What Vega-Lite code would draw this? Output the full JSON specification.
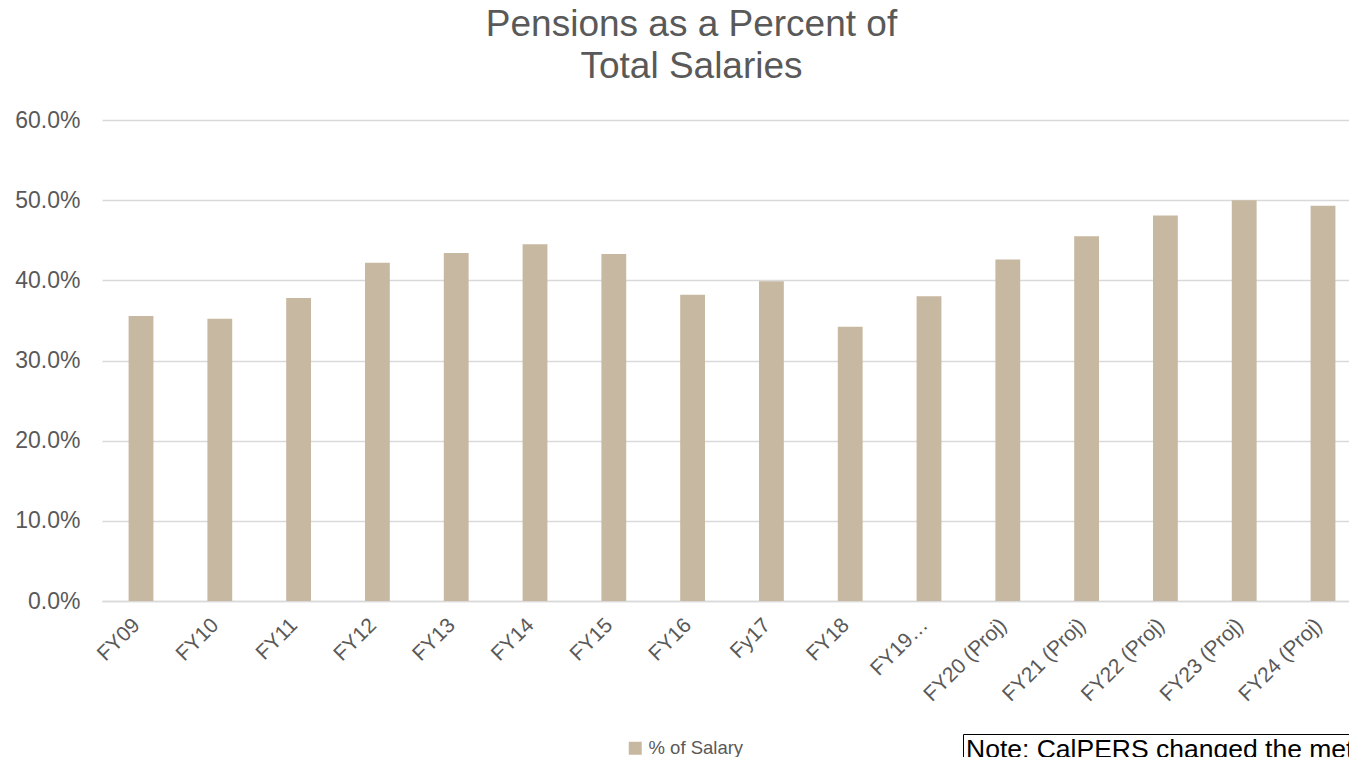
{
  "$schema": "https://vega.github.io/schema/vega-lite/v6.json",
  "width": 1247,
  "height": 481,
  "autosize": {"type": "none"},
  "padding": {"left": 102, "top": 120, "right": 0, "bottom": 156},
  "background": "white",
  "config": {
    "view": {"stroke": null},
    "font": "Liberation Sans"
  },
  "title": {
    "text": ["Pensions as a Percent of", "Total Salaries"],
    "fontSize": 37,
    "fontWeight": "normal",
    "color": "#595959",
    "font": "Liberation Sans",
    "anchor": "middle",
    "dx": -34,
    "offset": 23,
    "lineHeight": 42
  },
  "data": {
    "values": [
      {"year": "FY09", "pct": 0.3555},
      {"year": "FY10", "pct": 0.352},
      {"year": "FY11", "pct": 0.378},
      {"year": "FY12", "pct": 0.422},
      {"year": "FY13", "pct": 0.434},
      {"year": "FY14", "pct": 0.445},
      {"year": "FY15", "pct": 0.433},
      {"year": "FY16", "pct": 0.382},
      {"year": "Fy17", "pct": 0.399},
      {"year": "FY18", "pct": 0.342},
      {"year": "FY19…", "pct": 0.380},
      {"year": "FY20 (Proj)", "pct": 0.426},
      {"year": "FY21 (Proj)", "pct": 0.455},
      {"year": "FY22 (Proj)", "pct": 0.481},
      {"year": "FY23 (Proj)", "pct": 0.500},
      {"year": "FY24 (Proj)", "pct": 0.493}
    ]
  },
  "mark": {"type": "bar"},
  "encoding": {
    "x": {
      "field": "year",
      "type": "nominal",
      "sort": null,
      "scale": {"paddingInner": 0.685, "paddingOuter": 0.255, "align": 0.662},
      "axis": {
        "title": null,
        "labelAngle": -45,
        "labelAlign": "right",
        "labelBaseline": "alphabetic",
        "labelFontSize": 21,
        "labelColor": "#595959",
        "labelPadding": 25,
        "labelLimit": 300,
        "ticks": false,
        "domainColor": "#d9d9d9",
        "domainWidth": 1.5
      }
    },
    "y": {
      "field": "pct",
      "type": "quantitative",
      "scale": {"domain": [0, 0.6], "nice": false},
      "axis": {
        "title": null,
        "format": ".1%",
        "values": [0, 0.1, 0.2, 0.3, 0.4, 0.5, 0.6],
        "labelFontSize": 23,
        "labelColor": "#595959",
        "labelPadding": 22,
        "ticks": false,
        "domain": false,
        "gridColor": "#d9d9d9",
        "gridWidth": 1.5
      }
    },
    "color": {
      "datum": "% of Salary",
      "scale": {"range": ["#c7b8a1"]},
      "legend": {
        "title": null,
        "orient": "none",
        "legendX": 524,
        "legendY": 619,
        "symbolType": "square",
        "symbolSize": 169,
        "symbolStrokeWidth": 0,
        "labelFontSize": 18.5,
        "labelColor": "#595959",
        "labelOffset": 4
      }
    },
    "opacity": {
      "datum": "note",
      "type": "ordinal",
      "scale": {"range": [1]},
      "legend": {
        "title": "Note: CalPERS changed the methodology",
        "titleFontSize": 26.5,
        "titleFontWeight": "normal",
        "titleColor": "#000000",
        "titleLimit": 2000,
        "titleBaseline": "top",
        "orient": "none",
        "legendX": 861,
        "legendY": 614,
        "padding": 3,
        "strokeColor": "#000000",
        "symbolOpacity": 0,
        "symbolStrokeWidth": 0,
        "labelExpr": "''",
        "labelFontSize": 1
      }
    }
  }
}
